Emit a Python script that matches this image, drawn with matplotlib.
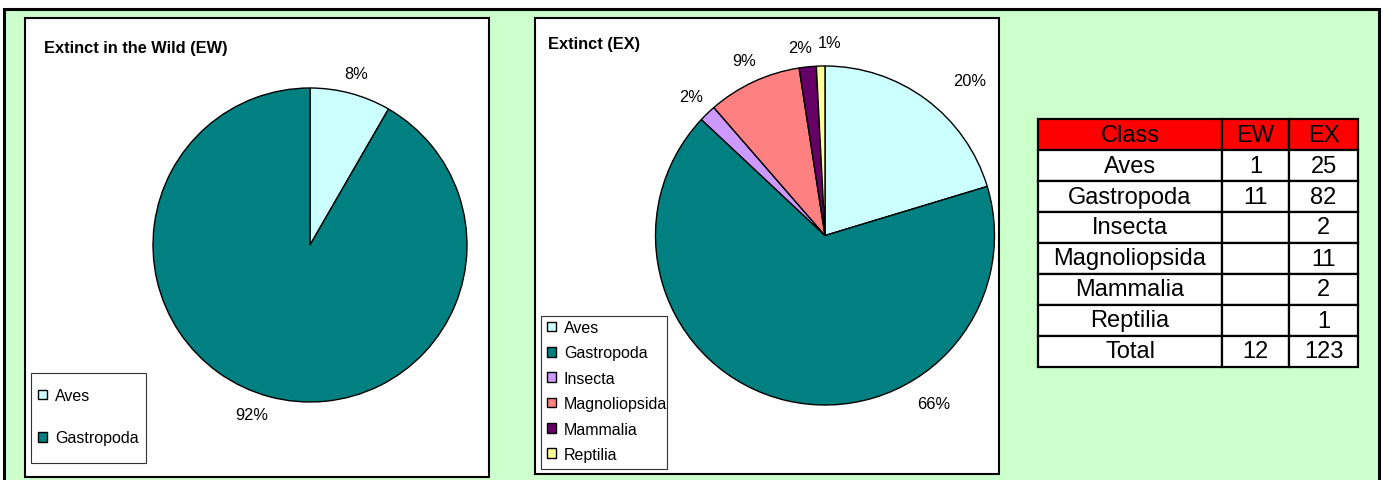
import matplotlib
matplotlib.use("Agg")
import matplotlib.pyplot as plt
import numpy as np
from matplotlib.patches import Rectangle

plt.rcParams['font.family'] = ['Liberation Sans', 'DejaVu Sans']

# data
classes = ['Aves', 'Gastropoda', 'Insecta', 'Magnoliopsida', 'Mammalia', 'Reptilia']
ew_counts = [1, 11]                 # Aves, Gastropoda
ex_counts = [25, 82, 2, 11, 2, 1]
ew_labels = ['8%', '92%']
ex_labels = ['20%', '66%', '2%', '9%', '2%', '1%']
colors = ['#CCFFFF', '#008080', '#CC99FF', '#FF8080', '#660066', '#FFFF99']

W, H = 1383, 481
fig = plt.figure(figsize=(W / 100, H / 100), dpi=100)
fig.patch.set_facecolor('white')

# background in pixel coordinates
bg = fig.add_axes([0, 0, 1, 1])
bg.set_xlim(0, W)
bg.set_ylim(H, 0)
bg.axis('off')
bg.add_patch(Rectangle((4, 10), 1375, 490, fc='#CCFFCC', ec='black', lw=2.2))
bg.add_patch(Rectangle((25, 19), 464, 459, fc='white', ec='black', lw=1.5))
bg.add_patch(Rectangle((535, 19), 464, 456, fc='white', ec='black', lw=1.5))
bg.add_patch(Rectangle((31, 374), 115, 90, fc='white', ec='#333333', lw=0.8))
bg.add_patch(Rectangle((541, 317), 126, 153, fc='white', ec='#333333', lw=0.8))

bg.text(44, 48, 'Extinct in the Wild (EW)', fontsize=11.8, fontweight='bold', va='center')
bg.text(548, 45, 'Extinct (EX)', fontsize=11.8, fontweight='bold', va='center')


def pie_axes(cx, cy, r):
    ax = fig.add_axes([(cx - r) / W, 1 - (cy + r) / H, 2 * r / W, 2 * r / H])
    return ax


def place_labels(texts, wedges, dist, overrides):
    for i, (t, w) in enumerate(zip(texts, wedges)):
        ang, d = (w.theta1 + w.theta2) / 2, dist
        if i in overrides:
            ang, d = overrides[i]
        a = np.deg2rad(ang)
        t.set_position((d * np.cos(a), d * np.sin(a)))
        t.set_ha('center')
        t.set_va('center')


wp = dict(edgecolor='black', linewidth=1.0)

ax1 = pie_axes(310, 246, 157)
w1, t1 = ax1.pie(ew_counts, labels=ew_labels, colors=colors[:2], startangle=90,
                 counterclock=False, wedgeprops=wp, textprops=dict(fontsize=11.8))
ax1.set_xlim(-1, 1)
ax1.set_ylim(-1, 1)
place_labels(t1, w1, 1.13, {1: (251, 1.14)})

ax2 = pie_axes(825, 236.5, 169.5)
w2, t2 = ax2.pie(ex_counts, labels=ex_labels, colors=colors, startangle=90,
                 counterclock=False, wedgeprops=wp, textprops=dict(fontsize=11.8))
ax2.set_xlim(-1, 1)
ax2.set_ylim(-1, 1)
place_labels(t2, w2, 1.14, {0: (47, 1.25), 1: (-57, 1.18),
                            4: (97.5, 1.12), 5: (88.5, 1.14)})

leg_kw = dict(loc='upper left', frameon=False, borderpad=0, borderaxespad=0,
              fontsize=11.5, handlelength=0.55, handleheight=0.55, handletextpad=0.5)
fig.legend(w1, classes[:2], bbox_to_anchor=(38 / W, 1 - 389 / H), labelspacing=1.72, **leg_kw)
fig.legend(w2, classes, bbox_to_anchor=(547 / W, 1 - 321 / H), labelspacing=0.65, **leg_kw)

# table
ew_col = [str(v) for v in ew_counts] + [''] * (len(classes) - len(ew_counts))
rows = [[c, e, str(x)] for c, e, x in zip(classes, ew_col, ex_counts)]
rows.append(['Total', str(sum(ew_counts)), str(sum(ex_counts))])

tab_ax = fig.add_axes([1038 / W, 1 - 368 / H, 320 / W, 248 / H])
tab_ax.axis('off')
tbl = tab_ax.table(cellText=rows, colLabels=['Class', 'EW', 'EX'], cellLoc='center',
                   bbox=[0, 0, 1, 1], colWidths=[184 / 320, 67 / 320, 69 / 320])
tbl.auto_set_font_size(False)
tbl.set_fontsize(17)
for (r, c), cell in tbl.get_celld().items():
    cell.set_linewidth(1.6)
    cell.set_edgecolor('black')
    cell.set_facecolor('red' if r == 0 else 'white')

fig.savefig('out.png', dpi=100)
